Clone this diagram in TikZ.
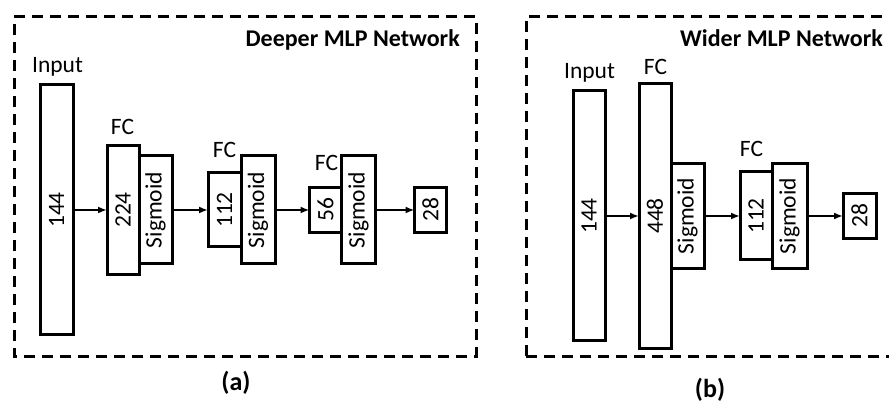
\documentclass[tikz,border=0pt]{standalone}
\usepackage{fontspec}
\setmainfont{Carlito}
\usetikzlibrary{arrows.meta}
\tikzset{
  box/.style={draw, line width=3pt, inner sep=0pt, outer sep=0pt, font=\fontsize{23.5}{28}\selectfont},
  lbl/.style={inner sep=0pt, anchor=base, font=\fontsize{23.5}{28}\selectfont},
  ttl/.style={inner sep=0pt, font=\bfseries\fontsize{24}{28}\selectfont},
  captext/.style={inner sep=0pt, anchor=base, font=\bfseries\fontsize{26}{30}\selectfont},
  frame/.style={line width=3pt, dash pattern=on 11pt off 7pt},
  arr/.style={line width=1.8pt, -{Latex[length=9pt,width=7pt]}}
}
\begin{document}
\begin{tikzpicture}[x=1pt,y=-1pt]
\clip (0,0) rectangle (889,403);
\fill[white] (0,0) rectangle (889,403);
% frames
\draw[frame] (14,17) -- (476,17) -- (476,356) -- (14,356) -- cycle;
\draw[frame] (526,356) -- (526,17) -- (910,17);
\draw[frame] (526,356) -- (910,356);
% titles
\node[ttl, anchor=base east] (tA) at (460,47) {Deeper MLP Network};
\node[ttl, anchor=base west] (tB) at (680,47) {Wider MLP Network};
% panel (a)
\node[box, minimum width=33, minimum height=250] (inA) at (56.5,210) {\rotatebox{90}{144}};
\node[box, minimum width=32, minimum height=129] (fcA1) at (123,210) {\rotatebox{90}{224}};
\node[box, anchor=west, minimum width=33, minimum height=108] (sgA1) at (fcA1.east) {\rotatebox{90}{Sigmoid}};
\node[box, minimum width=33, minimum height=74] (fcA2) at (224.5,210) {\rotatebox{90}{112}};
\node[box, anchor=west, minimum width=34, minimum height=108] (sgA2) at (fcA2.east) {\rotatebox{90}{Sigmoid}};
\node[box, minimum width=32, minimum height=45] (fcA3) at (325.5,210) {\rotatebox{90}{56}};
\node[box, anchor=west, minimum width=34, minimum height=108] (sgA3) at (fcA3.east) {\rotatebox{90}{Sigmoid}};
\node[box, minimum width=32, minimum height=45] (outA) at (430.5,210) {\rotatebox{90}{28}};
\node[lbl] (lInA) at (57.5,73) {Input};
\node[lbl] (lFcA1) at (122.5,135) {FC};
\node[lbl] (lFcA2) at (224.5,158) {FC};
\node[lbl] (lFcA3) at (326.5,171) {FC};
\draw[arr] (inA.east) -- (fcA1.west);
\draw[arr] (sgA1.east) -- (fcA2.west);
\draw[arr] (sgA2.east) -- (fcA3.west);
\draw[arr] (sgA3.east) -- (outA.west);
\node[captext] (capA) at (236,390) {(a)};
% panel (b)
\node[box, minimum width=32, minimum height=250] (inB) at (589,216) {\rotatebox{90}{144}};
\node[box, minimum width=32, minimum height=265] (fcB1) at (655,216) {\rotatebox{90}{448}};
\node[box, anchor=west, minimum width=33, minimum height=105] (sgB1) at (fcB1.east) {\rotatebox{90}{Sigmoid}};
\node[box, minimum width=32, minimum height=88] (fcB2) at (756,216) {\rotatebox{90}{112}};
\node[box, anchor=west, minimum width=35, minimum height=105] (sgB2) at (fcB2.east) {\rotatebox{90}{Sigmoid}};
\node[box, minimum width=33, minimum height=45] (outB) at (859.5,216) {\rotatebox{90}{28}};
\node[lbl] (lInB) at (589.5,79) {Input};
\node[lbl] (lFcB1) at (655.5,75) {FC};
\node[lbl] (lFcB2) at (751.5,157) {FC};
\draw[arr] (inB.east) -- (fcB1.west);
\draw[arr] (sgB1.east) -- (fcB2.west);
\draw[arr] (sgB2.east) -- (outB.west);
\node[captext] (capB) at (710,397) {(b)};
\end{tikzpicture}
\end{document}
